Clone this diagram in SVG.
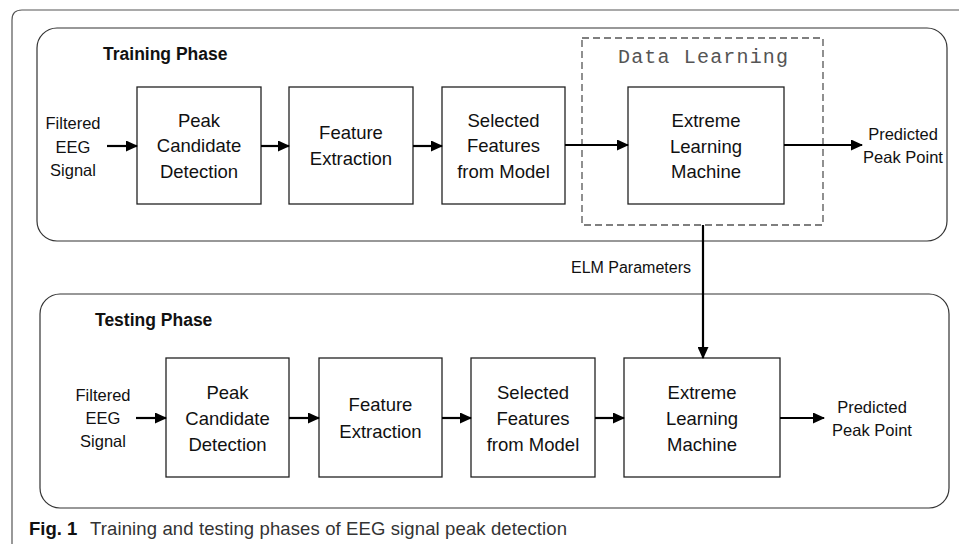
<svg xmlns="http://www.w3.org/2000/svg" width="959" height="544" viewBox="0 0 959 544">
<defs>
<style>
.frame{fill:none;stroke:#555;stroke-width:1.2}
.phase{fill:none;stroke:#333;stroke-width:1.2}
.box{fill:#fff;stroke:#222;stroke-width:1.3}
.dash{fill:none;stroke:#555;stroke-width:1.3;stroke-dasharray:7 4}
.t{font-family:"Liberation Sans",Arial,sans-serif;font-size:18.5px;fill:#111;text-anchor:middle}
.s{font-family:"Liberation Sans",Arial,sans-serif;font-size:16.5px;fill:#111;text-anchor:middle}
.h{font-family:"Liberation Sans",Arial,sans-serif;font-size:17.5px;font-weight:bold;fill:#111}
.mono{font-family:"Liberation Mono","Courier New",monospace;font-size:20px;fill:#555}
.cap{font-family:"Liberation Sans",Arial,sans-serif;font-size:18.5px;fill:#333}
.arr{stroke:#000;stroke-width:2.2;fill:none;marker-end:url(#ah)}
</style>
<marker id="ah" markerWidth="5.5" markerHeight="5" refX="5" refY="2.5" orient="auto" markerUnits="strokeWidth">
<path d="M0,0 L5.5,2.5 L0,5 Z" fill="#000"/>
</marker>
</defs>

<g id="frame">
<path class="frame" d="M12,544 L12,20 Q12,10 22,10 L959,10"/>
</g>

<g id="training-phase">
<rect class="phase" x="37" y="28" width="910" height="213" rx="20" ry="20"/>
<text class="h" x="103" y="60">Training Phase</text>
</g>

<g id="data-learning">
<rect class="dash" x="582" y="38" width="241" height="187"/>
<text class="mono" x="618" y="63" textLength="170">Data Learning</text>
</g>

<g id="tr-input">
<text class="s" x="73" y="129">Filtered</text>
<text class="s" x="73" y="153">EEG</text>
<text class="s" x="73" y="176">Signal</text>
</g>

<g id="tr-peak">
<rect class="box" x="137" y="87" width="124" height="117"/>
<text class="t" x="199" y="127">Peak</text>
<text class="t" x="199" y="152">Candidate</text>
<text class="t" x="199" y="178">Detection</text>
</g>

<g id="tr-feature">
<rect class="box" x="289" y="87" width="124" height="117"/>
<text class="t" x="351" y="139">Feature</text>
<text class="t" x="351" y="165">Extraction</text>
</g>

<g id="tr-selected">
<rect class="box" x="442" y="87" width="123" height="117"/>
<text class="t" x="503.5" y="127">Selected</text>
<text class="t" x="503.5" y="152">Features</text>
<text class="t" x="503.5" y="178">from Model</text>
</g>

<g id="tr-elm">
<rect class="box" x="628" y="87" width="156" height="117"/>
<text class="t" x="706" y="127">Extreme</text>
<text class="t" x="706" y="153">Learning</text>
<text class="t" x="706" y="178">Machine</text>
</g>

<g id="tr-output">
<text class="s" x="903" y="140">Predicted</text>
<text class="s" x="903" y="163">Peak Point</text>
</g>

<g id="testing-phase">
<rect class="phase" x="40" y="294" width="909" height="214" rx="20" ry="20"/>
<text class="h" x="95" y="326">Testing Phase</text>
</g>

<g id="te-input">
<text class="s" x="103" y="401">Filtered</text>
<text class="s" x="103" y="424">EEG</text>
<text class="s" x="103" y="447">Signal</text>
</g>

<g id="te-peak">
<rect class="box" x="166" y="358" width="123" height="119"/>
<text class="t" x="227.5" y="399">Peak</text>
<text class="t" x="227.5" y="425">Candidate</text>
<text class="t" x="227.5" y="451">Detection</text>
</g>

<g id="te-feature">
<rect class="box" x="319" y="358" width="123" height="119"/>
<text class="t" x="380.5" y="411">Feature</text>
<text class="t" x="380.5" y="438">Extraction</text>
</g>

<g id="te-selected">
<rect class="box" x="471" y="358" width="124" height="119"/>
<text class="t" x="533" y="399">Selected</text>
<text class="t" x="533" y="425">Features</text>
<text class="t" x="533" y="451">from Model</text>
</g>

<g id="te-elm">
<rect class="box" x="624" y="358" width="156" height="119"/>
<text class="t" x="702" y="399">Extreme</text>
<text class="t" x="702" y="425">Learning</text>
<text class="t" x="702" y="451">Machine</text>
</g>

<g id="te-output">
<text class="s" x="872" y="413">Predicted</text>
<text class="s" x="872" y="436">Peak Point</text>
</g>

<g id="connectors">
<line class="arr" x1="107" y1="146" x2="137" y2="146"/>
<line class="arr" x1="261" y1="146" x2="289" y2="146"/>
<line class="arr" x1="413" y1="146" x2="442" y2="146"/>
<line class="arr" x1="565" y1="145" x2="628" y2="145"/>
<line class="arr" x1="784" y1="145" x2="862" y2="145"/>
<line class="arr" x1="703" y1="225" x2="703" y2="358"/>
<text class="s" x="691" y="273" style="text-anchor:end;font-size:16px">ELM Parameters</text>
<line class="arr" x1="136" y1="418" x2="166" y2="418"/>
<line class="arr" x1="289" y1="418" x2="319" y2="418"/>
<line class="arr" x1="442" y1="418" x2="471" y2="418"/>
<line class="arr" x1="595" y1="418" x2="624" y2="418"/>
<line class="arr" x1="780" y1="418" x2="824" y2="418"/>
</g>

<g id="caption">
<text class="cap" x="29" y="535"><tspan font-weight="bold" fill="#111">Fig. 1</tspan></text>
<text class="cap" x="90" y="535" textLength="477">Training and testing phases of EEG signal peak detection</text>
</g>
</svg>
